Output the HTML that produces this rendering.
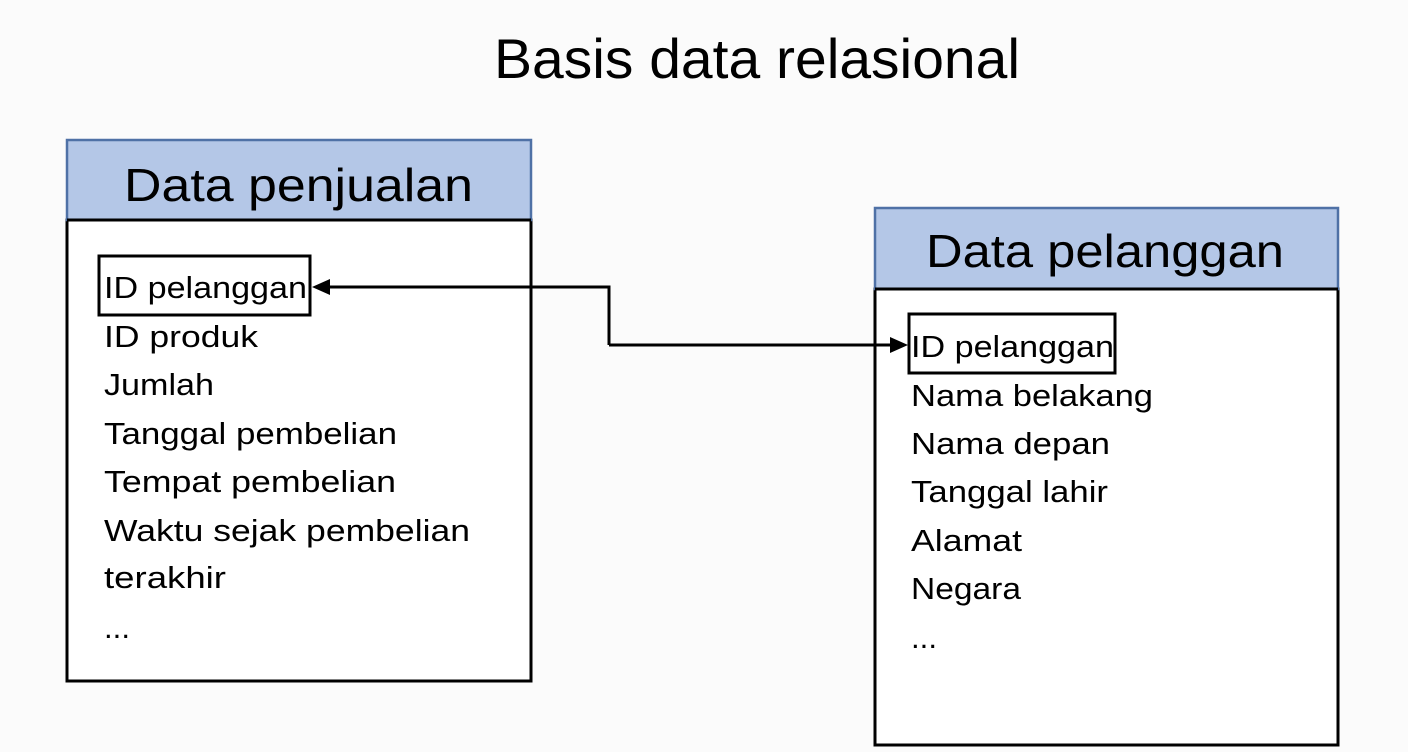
<!DOCTYPE html>
<html><head><meta charset="utf-8"><style>
html,body{margin:0;padding:0;background:#fbfbfb;}
svg{display:block}
text{font-family:"Liberation Sans",sans-serif;fill:#000}
</style></head><body>
<svg width="1408" height="752" viewBox="0 0 1408 752">
<text x="494" y="78" font-size="56" textLength="526" lengthAdjust="spacingAndGlyphs">Basis data relasional</text>

<rect x="67" y="220" width="464" height="461" fill="#fff" stroke="#000" stroke-width="3"/>
<rect x="67" y="140" width="464" height="80" fill="#b4c7e7" stroke="#4f71a6" stroke-width="2.5"/>
<line x1="67" y1="220" x2="531" y2="220" stroke="#000" stroke-width="3"/>
<text x="124" y="201" font-size="46" textLength="349" lengthAdjust="spacingAndGlyphs">Data penjualan</text>
<rect x="99" y="256" width="211" height="59" fill="none" stroke="#000" stroke-width="3"/>
<g font-size="31">
<text x="104" y="298" textLength="203" lengthAdjust="spacingAndGlyphs">ID pelanggan</text>
<text x="104" y="347" textLength="154" lengthAdjust="spacingAndGlyphs">ID produk</text>
<text x="104" y="395" textLength="110" lengthAdjust="spacingAndGlyphs">Jumlah</text>
<text x="104" y="444" textLength="293" lengthAdjust="spacingAndGlyphs">Tanggal pembelian</text>
<text x="104" y="492" textLength="292" lengthAdjust="spacingAndGlyphs">Tempat pembelian</text>
<text x="104" y="541" textLength="366" lengthAdjust="spacingAndGlyphs">Waktu sejak pembelian</text>
<text x="104" y="588" textLength="122" lengthAdjust="spacingAndGlyphs">terakhir</text>
<text x="104" y="638" textLength="26" lengthAdjust="spacingAndGlyphs">...</text>
</g>

<rect x="875" y="289" width="463" height="456" fill="#fff" stroke="#000" stroke-width="3"/>
<rect x="875" y="208" width="463" height="81" fill="#b4c7e7" stroke="#4f71a6" stroke-width="2.5"/>
<line x1="875" y1="289" x2="1338" y2="289" stroke="#000" stroke-width="3"/>
<text x="926" y="267" font-size="46" textLength="358" lengthAdjust="spacingAndGlyphs">Data pelanggan</text>
<rect x="909" y="314" width="206" height="59" fill="none" stroke="#000" stroke-width="3"/>
<g font-size="31">
<text x="911" y="357" textLength="203" lengthAdjust="spacingAndGlyphs">ID pelanggan</text>
<text x="911" y="406" textLength="242" lengthAdjust="spacingAndGlyphs">Nama belakang</text>
<text x="911" y="454" textLength="199" lengthAdjust="spacingAndGlyphs">Nama depan</text>
<text x="911" y="502" textLength="197" lengthAdjust="spacingAndGlyphs">Tanggal lahir</text>
<text x="911" y="551" textLength="111" lengthAdjust="spacingAndGlyphs">Alamat</text>
<text x="911" y="599" textLength="110" lengthAdjust="spacingAndGlyphs">Negara</text>
<text x="911" y="648" textLength="26" lengthAdjust="spacingAndGlyphs">...</text>
</g>

<path d="M609,345 L609,287 L328,287" fill="none" stroke="#000" stroke-width="3"/>
<polygon points="312,287 330,279 330,295" fill="#000"/>
<path d="M609,345 L892,345" fill="none" stroke="#000" stroke-width="3"/>
<polygon points="908,345 890,337 890,353" fill="#000"/>
</svg>
</body></html>
